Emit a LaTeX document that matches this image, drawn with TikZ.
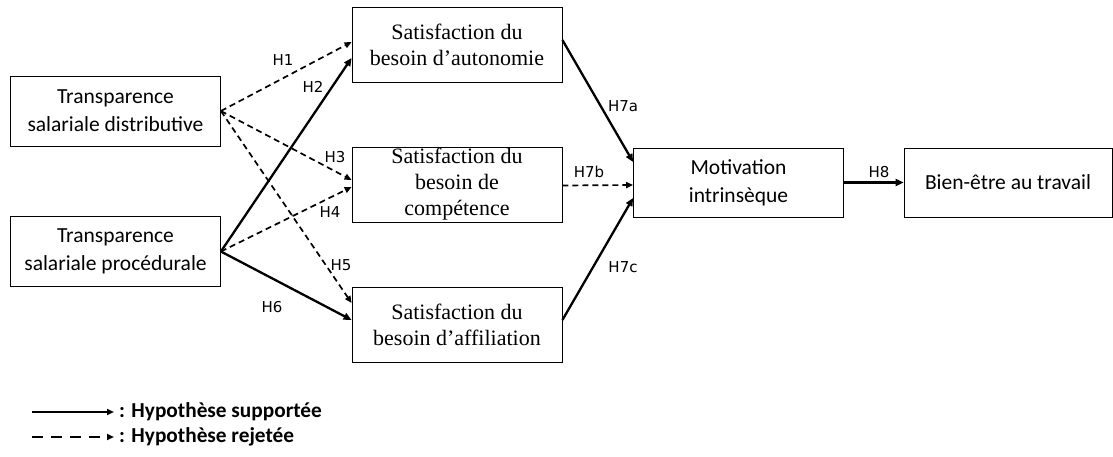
\documentclass[tikz,border=0pt]{standalone}
\usepackage{fontspec}
\setmainfont{Liberation Serif}
\newfontfamily\carlitofont{Carlito}
\newfontfamily\labelfont{DejaVu Sans}
\usetikzlibrary{arrows.meta}
\begin{document}
\begin{tikzpicture}[x=1pt,y=-1pt,
  box/.style={draw,line width=0.8pt,minimum width=210pt,minimum height=70pt,inner sep=0pt,align=center},
  sbox/.style={box,minimum height=75pt,font=\fontsize{22}{26}\selectfont},
  cbox/.style={box,font=\carlitofont\fontsize{21.5}{28}\selectfont},
  sup/.style={line width=2.3pt,-{Triangle[length=8pt,width=7pt]}},
  rej/.style={line width=1.7pt,dash pattern=on 6pt off 4pt,-{Triangle[length=7pt,width=6pt]}},
  hl/.style={font=\labelfont\fontsize{15}{16}\selectfont,inner sep=0pt},
  leg/.style={font=\carlitofont\bfseries\fontsize{21.3}{24}\selectfont,anchor=west,inner sep=0pt}]
\useasboundingbox (0,0) rectangle (1113,457);
\node[cbox] (tsd) at (115.5,111) {Transparence\\salariale distributive};
\node[cbox] (tsp) at (115.5,251.5) {Transparence\\salariale procédurale};
\node[sbox] (sba) at (457,44.5) {Satisfaction du\\besoin d’autonomie};
\node[sbox,text depth=6pt] (sbc) at (457,184.5) {Satisfaction du\\besoin de\\compétence};
\node[sbox] (sbf) at (457,324.5) {Satisfaction du\\besoin d’affiliation};
\node[cbox,minimum height=69pt] (mot) at (738.5,182.5) {Motivation\\intrinsèque};
\node[cbox,minimum width=208pt,minimum height=69pt] (bet) at (1008,182.5) {Bien-être au travail};
\draw[rej] (tsd.east) -- ([yshift=2.5pt]sba.west);
\draw[sup] (tsp.east) -- ([yshift=-13.5pt]sba.west);
\draw[rej] (tsd.east) -- ([yshift=4.5pt]sbc.west);
\draw[rej] (tsp.east) -- ([yshift=-2.5pt]sbc.west);
\draw[rej] (tsd.east) -- ([yshift=21.5pt]sbf.west);
\draw[sup] (tsp.east) -- ([yshift=4.5pt]sbf.west);
\draw[sup] ([yshift=4.5pt]sba.east) -- ([yshift=20.5pt]mot.west);
\draw[rej] ([yshift=-1pt]sbc.east) -- ([yshift=-2.5pt]mot.west);
\draw[sup] ([yshift=4.5pt]sbf.east) -- ([yshift=-15.5pt]mot.west);
\draw[sup] (mot.east) -- (bet.west);
\node[hl] (h1) at (283,60) {H1};
\node[hl] (h2) at (313,87) {H2};
\node[hl] (h3) at (335,157) {H3};
\node[hl] (h4) at (330,212) {H4};
\node[hl] (h5) at (341,265) {H5};
\node[hl] (h6) at (272,307) {H6};
\node[hl] (h7a) at (623,106) {H7a};
\node[hl] (h7b) at (589,172) {H7b};
\node[hl] (h7c) at (623,267) {H7c};
\node[hl] (h8) at (879,172) {H8};
\coordinate (l1a) at (32,412);
\coordinate (l1b) at (114,412);
\coordinate (l2a) at (32,437);
\coordinate (l2b) at (114,437);
\draw[line width=2pt,-{Triangle[length=7pt,width=6pt]}] (l1a) -- (l1b);
\draw[line width=1.8pt,dash pattern=on 11pt off 8pt,-{Triangle[length=7pt,width=6pt]}] (l2a) -- (l2b);
\node[leg] (lt1) at (119,412) {: Hypothèse supportée};
\node[leg] (lt2) at (119,437) {: Hypothèse rejetée};
\end{tikzpicture}
\end{document}
